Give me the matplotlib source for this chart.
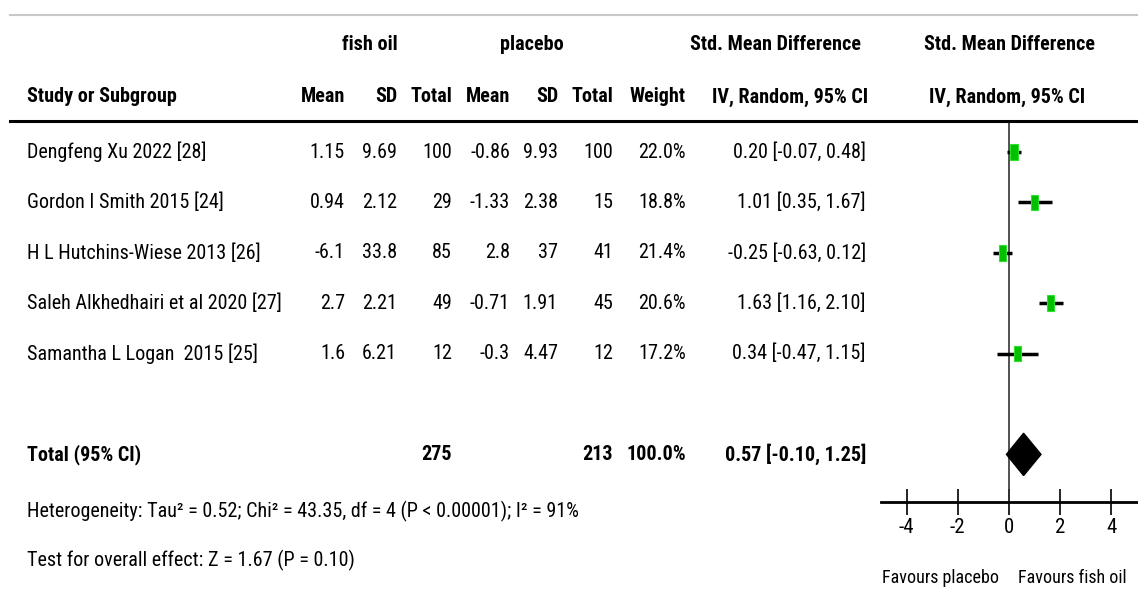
import matplotlib
matplotlib.use("Agg")
import matplotlib.pyplot as plt
from matplotlib.patches import Rectangle, Polygon

plt.rcParams['font.family'] = ['Roboto Condensed', 'Liberation Sans', 'DejaVu Sans']
plt.rcParams['axes.unicode_minus'] = False

# data
studies = ["Dengfeng Xu 2022 [28]", "Gordon I Smith 2015 [24]", "H L Hutchins-Wiese 2013 [26]",
           "Saleh Alkhedhairi et al 2020 [27]", "Samantha L Logan  2015 [25]"]
fo_mean = ["1.15", "0.94", "-6.1", "2.7", "1.6"]
fo_sd = ["9.69", "2.12", "33.8", "2.21", "6.21"]
fo_n = [100, 29, 85, 49, 12]
pl_mean = ["-0.86", "-1.33", "2.8", "-0.71", "-0.3"]
pl_sd = ["9.93", "2.38", "37", "1.91", "4.47"]
pl_n = [100, 15, 41, 45, 12]
weight = [22.0, 18.8, 21.4, 20.6, 17.2]
smd = [0.20, 1.01, -0.25, 1.63, 0.34]
ci_lo = [-0.07, 0.35, -0.63, 1.16, -0.47]
ci_hi = [0.48, 1.67, 0.12, 2.10, 1.15]
tot_fo, tot_pl, tot_w = 275, 213, 100.0
tot_smd, tot_lo, tot_hi = 0.57, -0.10, 1.25
xticks = [-4, -2, 0, 2, 4]

W, H = 1138, 596
fig = plt.figure(figsize=(W / 100, H / 100), dpi=100)

def X(px):
    return px / W

def Y(py):
    return 1 - py / H

fs = 14.5

def txt(px, py, s, ha='left', bold=False, size=fs):
    fig.text(X(px), Y(py), s, ha=ha, va='center', fontsize=size,
             fontweight='bold' if bold else 'normal')

# rules
fig.add_artist(plt.Line2D([X(10), X(1138)], [Y(15), Y(15)], color='#c8c8c8', lw=1.5))
fig.add_artist(plt.Line2D([X(10), X(1138)], [Y(121), Y(121)], color='black', lw=2.2))

# headers
txt(370, 45, "fish oil", 'center', True)
txt(532, 45, "placebo", 'center', True)
txt(776, 45, "Std. Mean Difference", 'center', True)
txt(1009, 45, "Std. Mean Difference", 'center', True)
txt(27, 97, "Study or Subgroup", 'left', True)
cols = [(345, "Mean"), (397, "SD"), (452, "Total"), (510, "Mean"), (558, "SD"),
        (613, "Total"), (686, "Weight")]
for px, s in cols:
    txt(px, 97, s, 'right', True)
txt(790, 97, "IV, Random, 95% CI", 'center', True)
txt(1007, 97, "IV, Random, 95% CI", 'center', True)

row_y0, row_dy = 152, 50.4
for i, name in enumerate(studies):
    py = row_y0 + row_dy * i
    txt(27, py, name)
    txt(345, py, fo_mean[i], 'right')
    txt(397, py, fo_sd[i], 'right')
    txt(452, py, str(fo_n[i]), 'right')
    txt(510, py, pl_mean[i], 'right')
    txt(558, py, pl_sd[i], 'right')
    txt(613, py, str(pl_n[i]), 'right')
    txt(686, py, f"{weight[i]:.1f}%", 'right')
    txt(866, py, f"{smd[i]:.2f} [{ci_lo[i]:.2f}, {ci_hi[i]:.2f}]", 'right')

py = row_y0 + row_dy * 6
txt(27, py, "Total (95% CI)", 'left', True)
txt(452, py, str(tot_fo), 'right', True)
txt(613, py, str(tot_pl), 'right', True)
txt(686, py, f"{tot_w:.1f}%", 'right', True)
txt(866, py, f"{tot_smd:.2f} [{tot_lo:.2f}, {tot_hi:.2f}]", 'right', True)
txt(27, 511, "Heterogeneity: Tau\u00b2 = 0.52; Chi\u00b2 = 43.35, df = 4 (P < 0.00001); I\u00b2 = 91%")
txt(27, 560, "Test for overall effect: Z = 1.67 (P = 0.10)")

# forest plot
top, bot = 121, 502
ax = fig.add_axes([X(881), Y(bot), 256 / W, (bot - top) / H])
ax.set_xlim(-5, 5)
ax.set_ylim((bot - row_y0) / row_dy, (top - row_y0) / row_dy)
for s in ['top', 'left', 'right']:
    ax.spines[s].set_visible(False)
ax.spines['bottom'].set_linewidth(2)
ax.set_yticks([])
ax.set_xticks(xticks)
ax.set_xticklabels([str(t) for t in xticks])
ax.tick_params(axis='x', direction='inout', length=19, width=1.2, labelsize=15, pad=2)
ax.axvline(0, color='#333333', lw=1.2)
ax.patch.set_alpha(0)

for i in range(len(studies)):
    ax.plot([ci_lo[i], ci_hi[i]], [i, i], color='black', lw=2.5, solid_capstyle='butt', zorder=3)
    w = 0.29 * (weight[i] / 22.0) ** 0.5
    h = 0.33 * (weight[i] / 22.0) ** 0.5
    ax.add_patch(Rectangle((smd[i] - w / 2, i - h / 2), w, h, facecolor='#00c000',
                           edgecolor='#30e030', lw=0.8, zorder=4))
ax.add_patch(Polygon([(tot_lo, 6), (tot_smd, 6 - 0.42), (tot_hi, 6), (tot_smd, 6 + 0.42)],
                     closed=True, facecolor='black', edgecolor='black', zorder=4))

txt(940, 578, "Favours placebo", 'center', size=13)
txt(1072, 578, "Favours fish oil", 'center', size=13)

fig.savefig("out.png", dpi=100)
